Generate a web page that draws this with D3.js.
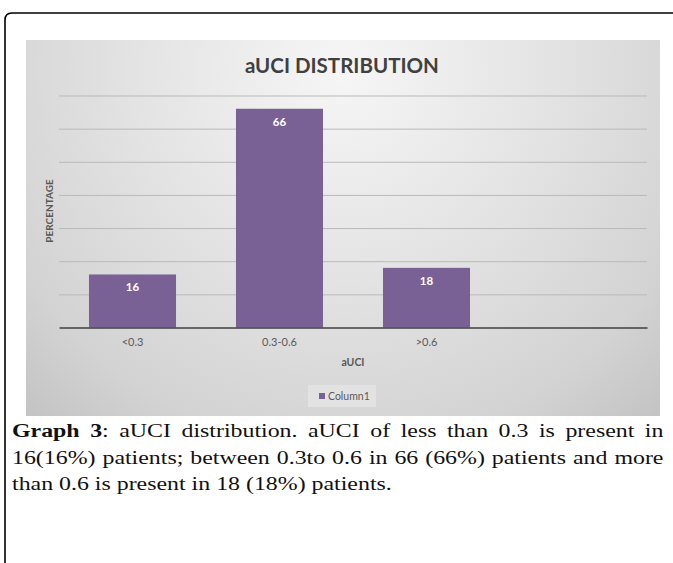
<!DOCTYPE html>
<html>
<head>
<meta charset="utf-8">
<script src="https://cdn.jsdelivr.net/npm/d3@7"></script>
<style>
  html, body { margin: 0; padding: 0; background: #fff; }
  #wrap { position: relative; width: 673px; height: 563px; overflow: hidden; }
  svg { position: absolute; left: 0; top: 0; }
  #caption { position: absolute; left: 12px; top: 418px; width: 505px;
             font-family: "Liberation Serif", serif; font-size: 18.5px; color: #111; line-height: 26.5px;
             transform: scaleX(1.29); transform-origin: 0 0; }
  #caption .ln { white-space: nowrap; }
  #caption .just { text-align: justify; text-align-last: justify; white-space: normal; }
  #caption b { font-weight: bold; }
</style>
</head>
<body>
<div id="wrap"></div>
<script>
// aUCI groups and percentage of patients in each
const categories = ["<0.3", "0.3-0.6", ">0.6", ""];
const values = [16, 66, 18, null];
const yTicks = [0, 10, 20, 30, 40, 50, 60, 70];
const seriesName = "Column1";
const chartTitle = "aUCI DISTRIBUTION";
const xTitle = "aUCI";
const yTitle = "PERCENTAGE";
const captionLines = [
  ["Graph 3", ": aUCI distribution. aUCI of less than 0.3 is present in"],
  ["", "16(16%) patients; between 0.3to 0.6 in 66 (66%) patients and more"],
  ["", "than 0.6 is present in 18 (18%) patients."]
];

const W = 673, H = 563;
const barColor = "#7a6195";
const textGrey = "#595959";
const font = "Lato, 'Open Sans', sans-serif";

const wrap = d3.select("#wrap");
const svg = wrap.append("svg").attr("width", W).attr("height", H);

// chart area background with a soft radial sheen
const defs = svg.append("defs");
const grad = defs.append("radialGradient").attr("id", "bg")
  .attr("gradientUnits", "userSpaceOnUse")
  .attr("cx", 343).attr("cy", 70).attr("r", 470);
grad.append("stop").attr("offset", 0).attr("stop-color", "#f6f6f6");
grad.append("stop").attr("offset", 0.45).attr("stop-color", "#e3e3e3");
grad.append("stop").attr("offset", 0.8).attr("stop-color", "#d3d3d3");
grad.append("stop").attr("offset", 1).attr("stop-color", "#c3c3c3");

// page frame (open at right and bottom)
svg.append("path")
  .attr("d", "M5,563 V20 Q5,13 12,13 H673")
  .attr("fill", "none").attr("stroke", "#000").attr("stroke-width", 1.6);

const box = { x: 26, y: 40, w: 634, h: 376 };
svg.append("rect").attr("x", box.x).attr("y", box.y)
  .attr("width", box.w).attr("height", box.h).attr("fill", "url(#bg)");

// plot scales
const plot = { left: 59, right: 647, top: 95.5, bottom: 327.5 };
const x = d3.scaleBand().domain(categories)
  .range([plot.left, plot.right]).paddingInner(0.408).paddingOuter(0.204);
const y = d3.scaleLinear().domain([0, 70]).range([plot.bottom, plot.top]);

// horizontal gridlines
const grid = svg.append("g").attr("transform", `translate(${plot.left},0)`)
  .call(d3.axisLeft(y).tickValues(yTicks.slice(1)).tickSize(-(plot.right - plot.left)).tickFormat(""));
grid.select(".domain").remove();
grid.selectAll(".tick line").attr("stroke", "#b9b9b9").attr("stroke-width", 1);

// bars
const data = categories.map((c, i) => ({ c, v: values[i] })).filter(d => d.v != null);
svg.append("g").selectAll("rect").data(data).join("rect")
  .attr("x", d => x(d.c)).attr("width", x.bandwidth())
  .attr("y", d => y(d.v)).attr("height", d => y(0) - y(d.v))
  .attr("fill", barColor);

// value labels inside the bars
svg.append("g").selectAll("text").data(data).join("text")
  .attr("x", d => x(d.c) + x.bandwidth() / 2)
  .attr("y", d => y(d.v) + 17)
  .attr("text-anchor", "middle")
  .attr("font-family", font).attr("font-weight", "bold").attr("font-size", 11.5)
  .attr("fill", "#fff").text(d => d.v);

// category axis
const xAxis = svg.append("g").attr("transform", `translate(0,${plot.bottom})`)
  .call(d3.axisBottom(x).tickSize(0).tickPadding(11));
xAxis.select(".domain").attr("stroke", "#3f3f3f").attr("stroke-width", 1.5);
xAxis.selectAll(".tick text").attr("font-family", font).attr("font-size", 11).attr("fill", textGrey);

// titles
svg.append("text").attr("x", 342).attr("y", 73).attr("text-anchor", "middle")
  .attr("font-family", font).attr("font-weight", "bold").attr("font-size", 20.5)
  .attr("fill", "#404040").text(chartTitle);
svg.append("text").attr("x", (plot.left + plot.right) / 2).attr("y", 366)
  .attr("text-anchor", "middle").attr("font-family", font).attr("font-weight", "bold")
  .attr("font-size", 10.5).attr("fill", textGrey).text(xTitle);
svg.append("text").attr("transform", "translate(53,211) rotate(-90)")
  .attr("text-anchor", "middle").attr("font-family", font).attr("font-weight", "bold")
  .attr("font-size", 10).attr("fill", textGrey).text(yTitle);

// legend
const lg = svg.append("g").attr("transform", "translate(308,385)");
lg.append("rect").attr("width", 68).attr("height", 22).attr("fill", "#e2e2e2");
lg.append("rect").attr("x", 11).attr("y", 8).attr("width", 6).attr("height", 6).attr("fill", barColor);
lg.append("text").attr("x", 20).attr("y", 15).attr("font-family", font).attr("font-size", 10.5)
  .attr("fill", textGrey).text(seriesName);

// caption below the chart
const cap = wrap.append("div").attr("id", "caption");
captionLines.forEach((parts, i) => {
  const ln = cap.append("div").attr("class", i < 2 ? "ln just" : "ln");
  if (parts[0]) ln.append("b").text(parts[0]);
  ln.append("span").text(parts[1]);
});
</script>
</body>
</html>
